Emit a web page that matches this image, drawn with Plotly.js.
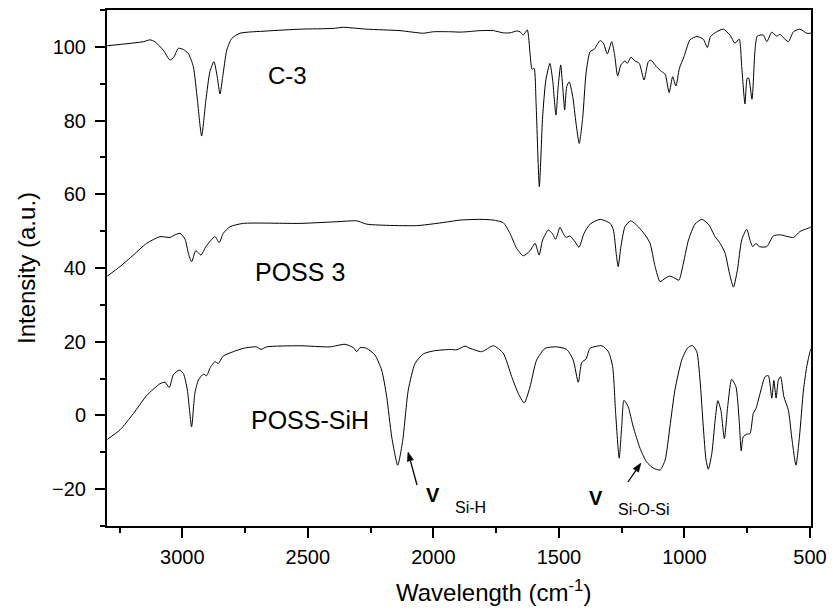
<!DOCTYPE html>
<html>
<head>
<meta charset="utf-8">
<script src="https://cdn.plot.ly/plotly-3.0.1.min.js"></script>
<style>html,body{margin:0;padding:0;background:#fff;}#chart{width:833px;height:612px;}</style>
</head>
<body>
<div id="chart"></div>
<script>
// Wavenumber (cm-1) and intensity values
const c3Wn = [3299,3155,3129,3109,3076,3049,3033,3016,2996,2976,2956,2940,2923,2906,2890,2874,2861,2850,2839,2823,2803,2770,2664,2531,2399,2359,2266,2133,2040,2000,1934,1894,1867,1814,1761,1722,1695,1668,1655,1642,1626,1615,1607,1599,1591,1578,1565,1552,1536,1525,1512,1503,1493,1485,1477,1469,1459,1445,1432,1419,1405,1392,1376,1360,1336,1323,1307,1290,1279,1266,1253,1237,1228,1213,1197,1180,1161,1144,1134,1111,1091,1077,1061,1047,1034,1020,1002,978,951,925,909,896,872,845,819,799,782,772,759,750,744,731,719,710,686,672,652,633,619,606,586,566,540,513,496];
const c3Int = [100.3,101.4,101.9,101.4,99.1,96.4,97.3,99.6,99.3,98.2,94.6,85.6,75.8,85.6,93.3,96.0,91.9,87.2,91.9,99.1,102.3,103.7,104.3,104.8,105.0,105.3,104.8,104.4,103.7,104.1,104.1,104.0,104.1,104.4,104.4,103.8,103.8,104.3,104.1,103.2,104.6,98.2,93.9,94.2,84.7,62.1,81.0,91.0,95.5,91.0,81.5,89.2,95.1,89.2,82.9,89.2,90.5,86.5,79.3,73.8,81.0,92.8,98.7,99.3,101.7,101.0,98.1,101.4,98.2,92.1,95.1,96.2,95.5,97.2,96.2,95.5,91.0,96.0,96.4,94.6,93.3,92.6,87.6,91.9,89.4,94.2,97.3,101.9,102.8,102.1,99.8,102.8,104.1,104.8,103.2,101.0,102.1,94.6,84.5,91.5,91.5,85.8,99.1,102.9,103.2,101.4,104.0,102.9,103.4,102.5,101.4,104.1,104.8,103.7,103.7];

const poss3Wn = [3299,3248,3195,3142,3089,3049,3029,3009,2989,2976,2963,2946,2926,2906,2870,2853,2837,2810,2757,2531,2372,2305,2266,2066,1934,1894,1814,1761,1722,1695,1668,1642,1615,1595,1579,1565,1542,1527,1513,1496,1483,1472,1456,1436,1420,1400,1376,1336,1296,1283,1272,1264,1253,1237,1214,1184,1157,1137,1117,1097,1077,1058,1038,1022,1007,984,958,931,905,878,858,838,821,805,789,772,752,739,728,715,702,672,646,619,566,540,500,496];
const poss3Int = [37.8,40.4,43.5,46.7,48.5,48.3,49.0,49.4,47.8,44.0,41.7,44.7,43.5,45.8,48.5,46.9,49.4,51.2,52.1,52.1,52.6,52.8,51.9,51.5,52.6,53.0,53.2,53.0,52.3,49.4,45.3,43.3,44.7,46.7,43.5,47.6,50.3,49.4,47.8,51.0,49.4,48.3,48.7,47.1,45.6,49.4,51.9,53.2,52.1,50.3,44.0,40.4,45.8,51.2,52.8,51.2,49.0,46.7,40.4,36.3,37.2,37.8,37.2,36.7,40.4,47.6,51.9,53.2,51.9,48.5,46.7,44.0,38.6,34.8,39.5,47.6,50.5,47.6,45.8,46.7,45.8,45.8,48.7,49.0,48.3,49.9,51.0,51.2];

const sihWn = [3299,3248,3195,3142,3089,3069,3052,3036,3013,2996,2980,2963,2950,2936,2916,2903,2890,2870,2857,2837,2797,2757,2704,2687,2664,2531,2412,2352,2319,2305,2292,2266,2233,2206,2186,2166,2142,2122,2100,2073,2040,2000,1934,1907,1894,1874,1854,1808,1761,1722,1688,1662,1638,1615,1589,1555,1509,1469,1443,1423,1409,1392,1376,1329,1303,1286,1274,1260,1250,1241,1224,1204,1177,1151,1124,1097,1077,1058,1038,1011,989,969,951,938,925,914,905,891,878,867,855,841,828,812,795,782,774,766,752,739,726,715,699,679,666,652,644,635,626,617,604,586,573,556,542,526,513,500,496];
const sihInt = [-6.5,-3.9,0.5,5.4,8.6,9.0,7.6,11.0,12.3,11.4,6.9,-3.1,6.0,9.6,11.2,10.8,12.8,14.6,14.1,16.1,17.3,18.2,18.6,17.9,18.6,18.9,18.6,19.3,18.4,17.3,18.4,18.2,16.4,12.3,5.1,-5.8,-13.5,-6.7,6.9,14.1,16.7,17.5,17.9,17.8,18.2,18.8,18.2,17.3,18.9,16.9,10.5,6.0,3.4,7.8,15.0,18.2,18.6,17.9,15.0,9.0,14.4,15.3,18.2,18.9,17.3,13.2,0.5,-11.6,-3.1,4.1,2.3,-3.1,-8.9,-12.6,-14.3,-14.8,-12.1,-3.1,6.9,15.0,18.2,19.0,17.3,9.6,-3.1,-12.1,-14.6,-10.3,-1.4,4.0,1.4,-6.3,2.3,9.8,7.8,-1.4,-9.6,-5.8,-5.1,-4.9,0.5,1.9,5.9,10.5,10.8,4.7,9.5,4.7,9.6,10.5,5.1,1.4,-5.8,-13.5,-5.8,6.9,13.2,17.3,18.0];

const seriesNames = ["C-3", "POSS 3", "POSS-SiH"];
const xTitle = "Wavelength (cm<sup>-1</sup>)";
const yTitle = "Intensity (a.u.)";

const FONT = "Liberation Sans, Arial, Helvetica, sans-serif";
const W = 833, H = 612;
const M = {l: 107, r: 22, t: 10, b: 86};
const PW = W - M.l - M.r, PH = H - M.t - M.b;

const lineStyle = {color: "#000", width: 1, shape: "spline", smoothing: 0.6};

const traces = [
  {x: c3Wn, y: c3Int, name: seriesNames[0]},
  {x: poss3Wn, y: poss3Int, name: seriesNames[1]},
  {x: sihWn, y: sihInt, name: seriesNames[2]}
].map(t => Object.assign(t, {type: "scatter", mode: "lines", line: lineStyle, hoverinfo: "x+y"}));

// arrow helper: tail/head given as page pixel positions, converted to paper coords
function px2paper(p) { return [(p[0] - M.l) / PW, (H - M.b - p[1]) / PH]; }
function arrowShapes(tail, head) {
  const dx = head[0] - tail[0], dy = head[1] - tail[1];
  const len = Math.hypot(dx, dy), ux = dx / len, uy = dy / len;
  const hl = 9, hw = 3.2;
  const base = [head[0] - ux * hl, head[1] - uy * hl];
  const c1 = [base[0] - uy * hw, base[1] + ux * hw];
  const c2 = [base[0] + uy * hw, base[1] - ux * hw];
  const T = px2paper(tail), B = px2paper(base), Hh = px2paper(head), C1 = px2paper(c1), C2 = px2paper(c2);
  return [
    {type: "line", xref: "paper", yref: "paper", x0: T[0], y0: T[1], x1: B[0], y1: B[1], line: {color: "#000", width: 1.3}},
    {type: "path", xref: "paper", yref: "paper",
     path: `M ${Hh[0]} ${Hh[1]} L ${C1[0]} ${C1[1]} L ${C2[0]} ${C2[1]} Z`,
     fillcolor: "#000", line: {color: "#000", width: 0.5}}
  ];
}

const axisCommon = {
  showgrid: false, zeroline: false,
  showline: true, linecolor: "#000", linewidth: 2, mirror: true,
  ticks: "outside", ticklen: 10, tickwidth: 2, tickcolor: "#000",
  tickfont: {family: FONT, size: 20, color: "#000"}
};

function label(text, x, y, size, bold) {
  return {text: bold ? "<b>" + text + "</b>" : text, xref: "paper", yref: "paper", x: x, y: y,
          xanchor: "center", yanchor: "middle", showarrow: false,
          font: {family: FONT, size: size, color: "#000"}};
}

const layout = {
  width: W, height: H,
  margin: M,
  paper_bgcolor: "#fff", plot_bgcolor: "#fff",
  showlegend: false,
  font: {family: FONT, color: "#000"},
  xaxis: Object.assign({}, axisCommon, {
    range: [3300, 496], autorange: false, dtick: 500, tick0: 0,
    minor: {dtick: 250, tick0: 0, ticks: "outside", ticklen: 5, tickwidth: 2, tickcolor: "#000"},
    ticklabelstandoff: 2
  }),
  yaxis: Object.assign({}, axisCommon, {
    range: [-30, 110], autorange: false, dtick: 20, tick0: 0,
    minor: {dtick: 10, tick0: 0, ticks: "outside", ticklen: 5, tickwidth: 2, tickcolor: "#000"},
    ticklabelstandoff: 5,
    title: {text: yTitle, font: {family: FONT, size: 24, color: "#000"}, standoff: 10}
  }),
  annotations: [
    label(xTitle, 0.5497, -0.126, 24),
    label(seriesNames[0], 0.2571, 0.874, 24),
    label(seriesNames[1], 0.2741, 0.4922, 25),
    label(seriesNames[2], 0.2884, 0.2054, 25),
    label("V", 0.4631, 0.061, 20, true),
    label("Si-H", 0.5163, 0.0359, 16),
    label("V", 0.6946, 0.0552, 20, true),
    label("Si-O-Si", 0.7621, 0.032, 16)
  ],
  shapes: [].concat(arrowShapes([417, 485], [408, 452]), arrowShapes([628, 482], [641, 463]))
};

Plotly.newPlot("chart", traces, layout, {displayModeBar: false, staticPlot: true});
</script>
</body>
</html>
